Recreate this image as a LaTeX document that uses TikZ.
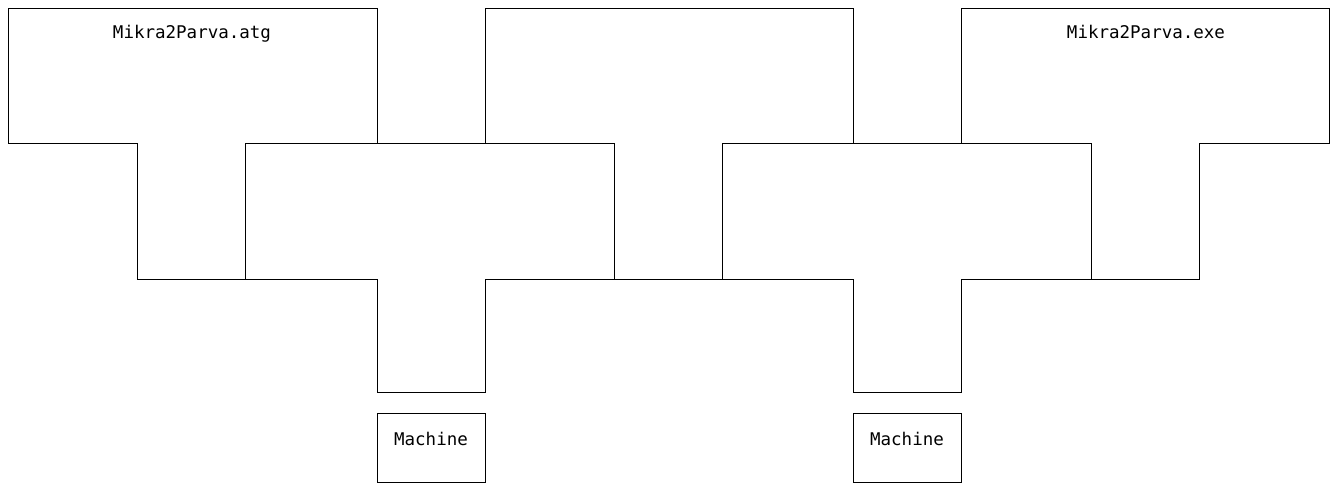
\documentclass[tikz,border=0pt]{standalone}
\usepackage{fontspec}
\newfontfamily\monofont{DejaVu Sans Mono}
\begin{document}
\begin{tikzpicture}[x=1pt,y=-1pt,
  tline/.style={draw=black,line width=1pt,line join=miter},
  lbl/.style={font=\monofont\fontsize{17.5}{19}\selectfont,inner sep=0pt,anchor=base},
  machbox/.style={draw=black,line width=1pt,minimum width=108pt,minimum height=69pt,inner sep=0pt}]
\useasboundingbox (0,0) rectangle (1333,483);
% T1 (top left)
\draw[tline] (8,8) -- (377,8) -- (377,143) -- (245,143) -- (245,279) -- (137,279) -- (137,143) -- (8,143) -- cycle;
% T2 (middle left)
\draw[tline] (245,143) -- (614,143) -- (614,279) -- (485,279) -- (485,392) -- (377,392) -- (377,279) -- (245,279) -- cycle;
% T3 (top middle)
\draw[tline] (485,8) -- (853,8) -- (853,143) -- (722,143) -- (722,279) -- (614,279) -- (614,143) -- (485,143) -- cycle;
% T4 (middle right)
\draw[tline] (722,143) -- (1091,143) -- (1091,279) -- (961,279) -- (961,392) -- (853,392) -- (853,279) -- (722,279) -- cycle;
% T5 (top right)
\draw[tline] (961,8) -- (1329,8) -- (1329,143) -- (1199,143) -- (1199,279) -- (1091,279) -- (1091,143) -- (961,143) -- cycle;
% labels
\node[lbl] (src) at (192,38) {Mikra2Parva.atg};
\node[lbl] (exe) at (1146,38) {Mikra2Parva.exe};
% machines
\node[machbox] (m1) at (431,447.5) {};
\node[lbl] (m1t) at (431,445) {Machine};
\node[machbox] (m2) at (907,447.5) {};
\node[lbl] (m2t) at (907,445) {Machine};
\end{tikzpicture}
\end{document}
